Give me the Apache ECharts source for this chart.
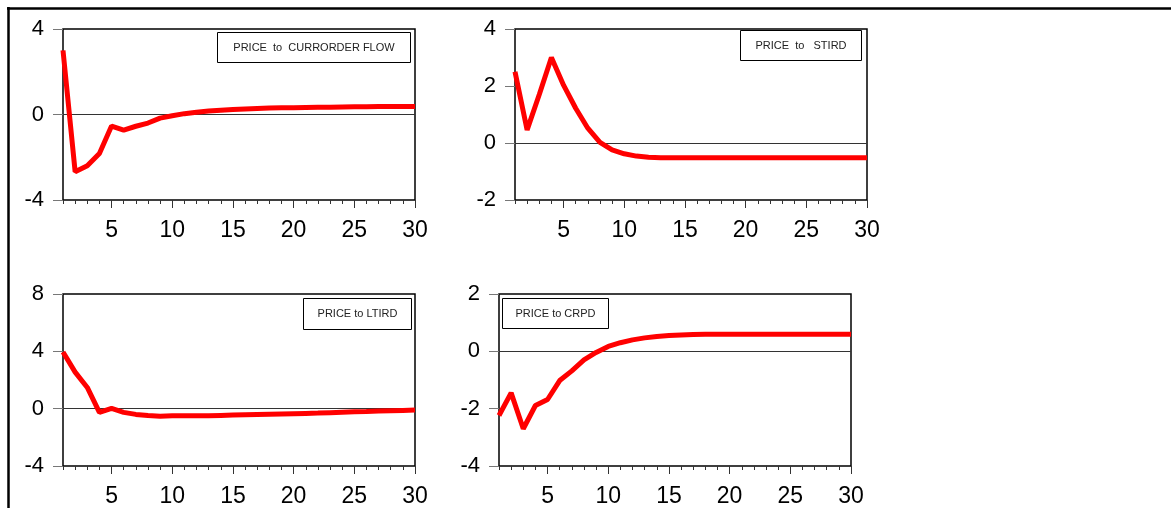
<!DOCTYPE html>
<html>
<head>
<meta charset="utf-8">
<script src="https://cdn.jsdelivr.net/npm/echarts@6/dist/echarts.min.js"></script>
<style>html,body{margin:0;padding:0;background:#fff}#c{width:1171px;height:508px}</style>
</head>
<body>
<div id="c"></div>
<script>
const periods = Array.from({length: 30}, (_, i) => String(i + 1));
const tickLabels = ['5', '10', '15', '20', '25', '30'];

const titles = ['PRICE  to  CURRORDER FLOW', 'PRICE  to   STIRD', 'PRICE to LTIRD', 'PRICE to CRPD'];

const currOrderFlow = [3.0, -2.68, -2.4, -1.82, -0.54, -0.73, -0.55, -0.4, -0.17, -0.06,
  0.04, 0.11, 0.16, 0.2, 0.23, 0.26, 0.28, 0.3, 0.31, 0.32,
  0.33, 0.34, 0.34, 0.35, 0.36, 0.36, 0.37, 0.37, 0.38, 0.38];
const stird = [2.5, 0.46, 1.7, 3.0, 2.03, 1.22, 0.52, 0.02, -0.24, -0.38,
  -0.46, -0.5, -0.52, -0.52, -0.52, -0.52, -0.52, -0.52, -0.52, -0.52,
  -0.52, -0.52, -0.52, -0.52, -0.52, -0.52, -0.52, -0.52, -0.52, -0.52];
const ltird = [3.95, 2.55, 1.48, -0.26, 0.02, -0.26, -0.4, -0.48, -0.53, -0.5,
  -0.5, -0.5, -0.49, -0.47, -0.45, -0.43, -0.41, -0.39, -0.37, -0.35,
  -0.33, -0.31, -0.28, -0.25, -0.22, -0.2, -0.17, -0.14, -0.12, -0.1];
const crpd = [-2.24, -1.45, -2.7, -1.89, -1.68, -1.02, -0.68, -0.3, -0.04, 0.17,
  0.3, 0.4, 0.47, 0.52, 0.55, 0.57, 0.59, 0.6, 0.6, 0.6,
  0.6, 0.6, 0.6, 0.6, 0.6, 0.6, 0.6, 0.6, 0.6, 0.6];

const seriesData = [currOrderFlow, stird, ltird, crpd];
const yRanges = [[-4, 4, 4], [-2, 4, 2], [-4, 8, 4], [-4, 2, 2]];

const grids = [
  {left: 63, top: 29, width: 352, height: 171},
  {left: 515, top: 29, width: 352, height: 171},
  {left: 63, top: 294, width: 352, height: 173},
  {left: 499, top: 294, width: 352, height: 173}
];
const boxes = [
  {x: 217, y: 32, w: 193, h: 30},
  {x: 740, y: 30, w: 121, h: 30},
  {x: 303, y: 298, w: 108, h: 31},
  {x: 502, y: 298, w: 106, h: 30}
];

const font = 'Liberation Sans, Arial, sans-serif';
const isMajor = v => tickLabels.indexOf(String(v)) >= 0;

const option = {
  animation: false,
  backgroundColor: '#fff',
  grid: grids.map(g => Object.assign({show: true, borderColor: '#000', borderWidth: 1.5, backgroundColor: 'transparent'}, g)),
  xAxis: [],
  yAxis: [],
  series: [],
  graphic: []
};

grids.forEach((g, i) => {
  // minor ticks axis (every period)
  option.xAxis.push({
    type: 'category', gridIndex: i, data: periods, boundaryGap: false, position: 'bottom',
    axisLine: {show: false, onZero: false},
    axisTick: {show: true, interval: 0, length: 4, lineStyle: {color: '#333', width: 1}},
    axisLabel: {show: false}, splitLine: {show: false}
  });
  // major ticks + labels axis
  option.xAxis.push({
    type: 'category', gridIndex: i, data: periods, boundaryGap: false, position: 'bottom',
    axisLine: {show: false, onZero: false},
    axisTick: {show: true, interval: (idx, v) => isMajor(v), length: 8, lineStyle: {color: '#333', width: 1}},
    axisLabel: {show: true, interval: (idx, v) => isMajor(v), fontFamily: font, fontSize: 23, color: '#000', margin: 19},
    splitLine: {show: false}
  });
  const r = yRanges[i];
  option.yAxis.push({
    type: 'value', gridIndex: i, min: r[0], max: r[1], interval: r[2],
    axisLine: {show: false, onZero: false},
    axisTick: {show: true, length: 10, lineStyle: {color: '#777', width: 1}},
    axisLabel: {fontFamily: font, fontSize: 22, color: '#000', margin: 19},
    splitLine: {show: false}
  });
  option.series.push({
    type: 'line', xAxisIndex: i * 2, yAxisIndex: i, data: seriesData[i],
    symbol: 'none', lineStyle: {color: '#ff0000', width: 5}, z: 5,
    markLine: {
      silent: true, symbol: 'none', label: {show: false},
      lineStyle: {color: '#333', width: 1, type: 'solid'},
      data: [{yAxis: 0}], z: 3
    }
  });
  const b = boxes[i];
  option.graphic.push({
    type: 'group', left: b.x, top: b.y, z: 10,
    children: [
      {type: 'rect', shape: {x: 0, y: 0, width: b.w, height: b.h}, style: {fill: '#fff', stroke: '#000', lineWidth: 1}},
      {type: 'text', x: b.w / 2, y: b.h / 2, style: {text: titles[i], fill: '#222', font: '11px ' + font, textAlign: 'center', textVerticalAlign: 'middle'}}
    ]
  });
});

option.graphic.push({type: 'line', shape: {x1: 7, y1: 8.5, x2: 1171, y2: 8.5}, style: {stroke: '#000', lineWidth: 2.5}, z: 20});
option.graphic.push({type: 'line', shape: {x1: 8.5, y1: 7, x2: 8.5, y2: 508}, style: {stroke: '#000', lineWidth: 2.5}, z: 20});

echarts.init(document.getElementById('c'), null, {renderer: 'canvas'}).setOption(option);
</script>
</body>
</html>
